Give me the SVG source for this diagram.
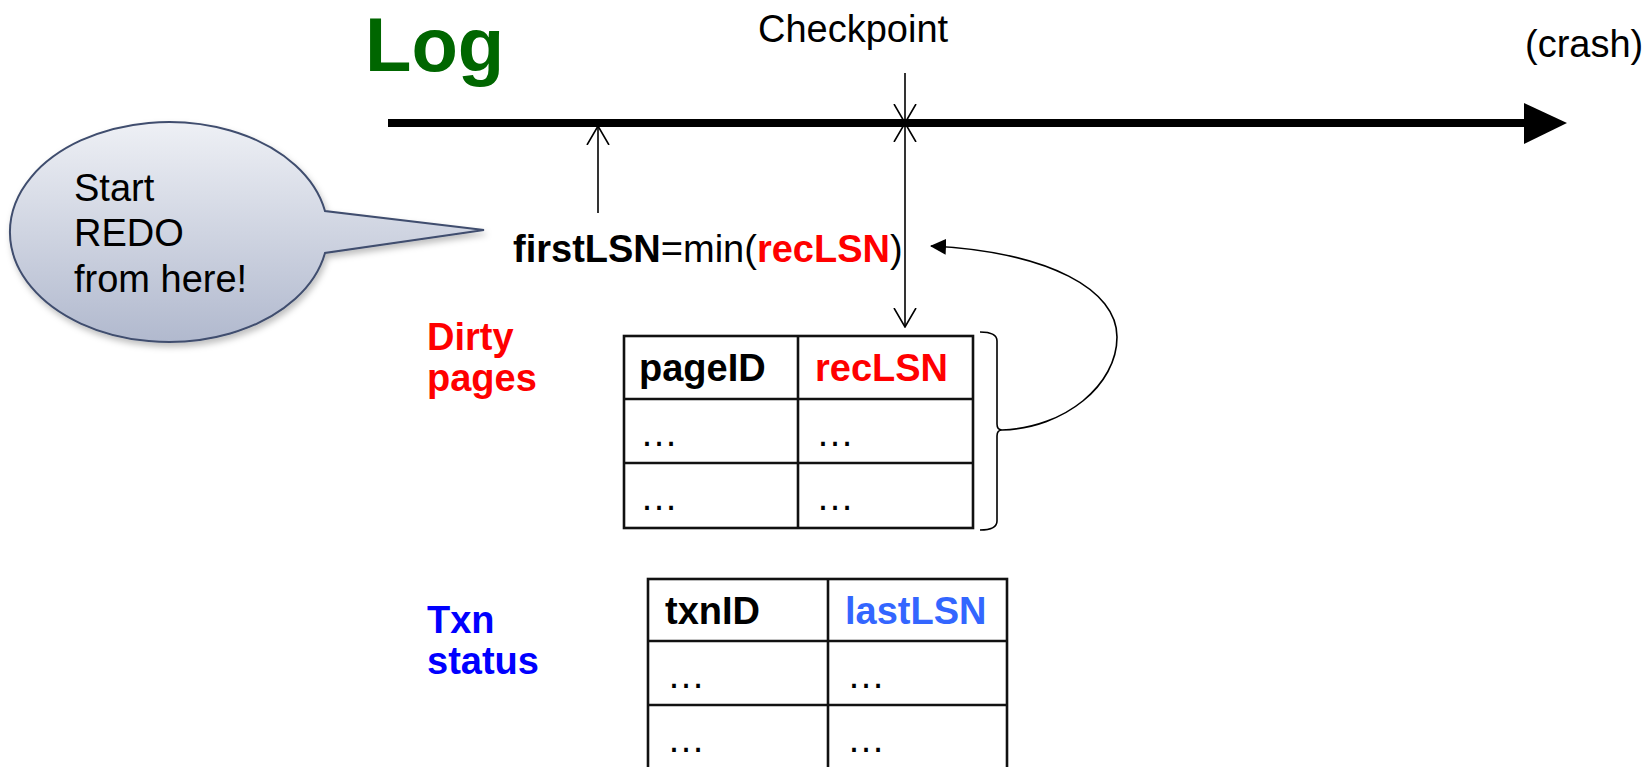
<svg xmlns="http://www.w3.org/2000/svg" width="1646" height="767" viewBox="0 0 1646 767">
  <style>
    text { font-family: "Liberation Sans", Arial, sans-serif; }
    .reg { font-size: 38px; fill: #000; }
    .b { font-weight: bold; }
    .red { fill: #ff0000; }
    .blue { fill: #0000ff; }
    .lblue { fill: #3366ff; }
    .cell { fill: none; stroke: #111; stroke-width: 2.6; }
    .thin { fill: none; stroke: #000; stroke-width: 1.6; }
  </style>
  <defs>
    <marker id="open" markerUnits="userSpaceOnUse" viewBox="0 0 20 24" refX="19" refY="12" markerWidth="20" markerHeight="24" orient="auto-start-reverse">
      <path d="M0,1 L19,12 L0,23" fill="none" stroke="#000" stroke-width="1.6"/>
    </marker>
    <marker id="solid" markerUnits="userSpaceOnUse" viewBox="0 0 16 16" refX="15" refY="8" markerWidth="16" markerHeight="16" orient="auto">
      <path d="M0,0 L16,8 L0,16 Z" fill="#000"/>
    </marker>
    <linearGradient id="bubbleGrad" x1="0" y1="0" x2="0" y2="1">
      <stop offset="0" stop-color="#eef0f5"/>
      <stop offset="1" stop-color="#b1b9ce"/>
    </linearGradient>
    <filter id="shadow" x="-10%" y="-10%" width="130%" height="140%">
      <feDropShadow dx="2" dy="4" stdDeviation="3" flood-color="#000" flood-opacity="0.25"/>
    </filter>
  </defs>

  <g id="log-title">
    <text x="365" y="71" font-size="76" font-weight="bold" fill="#006600">Log</text>
  </g>
  <g id="checkpoint-label">
    <text x="758" y="42" class="reg">Checkpoint</text>
  </g>
  <g id="crash-label">
    <text x="1525" y="57" class="reg">(crash)</text>
  </g>

  <g id="timeline">
    <line x1="388" y1="123" x2="1526" y2="123" stroke="#000" stroke-width="8"/>
    <polygon points="1524,103 1567,123 1524,144" fill="#000"/>
  </g>

  <g id="bubble">
    <path d="M325,211 A159,110 0 1 0 325,253 L484,230 Z" fill="url(#bubbleGrad)" stroke="#3f4d6e" stroke-width="2" filter="url(#shadow)"/>
    <text x="74" y="201" class="reg">Start</text>
    <text x="74" y="246" class="reg">REDO</text>
    <text x="74" y="292" class="reg">from here!</text>
  </g>

  <g id="formula">
    <text x="513" y="262" class="reg"><tspan class="b">firstLSN</tspan>=min(<tspan class="b red">recLSN</tspan>)</text>
  </g>

  <g id="dirty-label">
    <text x="427" y="350" class="reg b red" font-size="37">Dirty</text>
    <text x="427" y="391" class="reg b red" font-size="37">pages</text>
  </g>

  <g id="dirty-table">
    <rect x="624" y="336" width="349" height="192" class="cell"/>
    <line x1="798" y1="336" x2="798" y2="528" class="cell"/>
    <line x1="624" y1="399" x2="973" y2="399" class="cell"/>
    <line x1="624" y1="463" x2="973" y2="463" class="cell"/>
    <text x="639" y="381" class="reg b">pageID</text>
    <text x="815" y="381" class="reg b red">recLSN</text>
    <text x="640" y="446" class="reg">…</text>
    <text x="816" y="446" class="reg">…</text>
    <text x="640" y="510" class="reg">…</text>
    <text x="816" y="510" class="reg">…</text>
  </g>

  <g id="bracket">
    <path d="M980,332 Q997,332 997,341 L997,424 Q997,430 1002,430 Q997,430 997,436 L997,521 Q997,530 980,530" class="thin"/>
  </g>

  <g id="txn-label">
    <text x="427" y="633" class="reg b blue" font-size="37">Txn</text>
    <text x="427" y="674" class="reg b blue" font-size="37">status</text>
  </g>

  <g id="txn-table">
    <rect x="648" y="579" width="359" height="200" class="cell"/>
    <line x1="828" y1="579" x2="828" y2="779" class="cell"/>
    <line x1="648" y1="641" x2="1007" y2="641" class="cell"/>
    <line x1="648" y1="705" x2="1007" y2="705" class="cell"/>
    <text x="665" y="624" class="reg b">txnID</text>
    <text x="845" y="624" class="reg b lblue">lastLSN</text>
    <text x="667" y="688" class="reg">…</text>
    <text x="847" y="688" class="reg">…</text>
    <text x="667" y="752" class="reg">…</text>
    <text x="847" y="752" class="reg">…</text>
  </g>

  <g id="connectors">
    <line x1="905" y1="73" x2="905" y2="123" class="thin" marker-end="url(#open)"/>
    <line x1="905" y1="123" x2="905" y2="327" class="thin" marker-start="url(#open)" marker-end="url(#open)"/>
    <line x1="598" y1="213" x2="598" y2="126" class="thin" marker-end="url(#open)"/>
    <path d="M1002,430 C1065,428 1117,385 1117,337 C1117,290 1050,252 931,246" class="thin" stroke-width="2" marker-end="url(#solid)"/>
  </g>
</svg>
